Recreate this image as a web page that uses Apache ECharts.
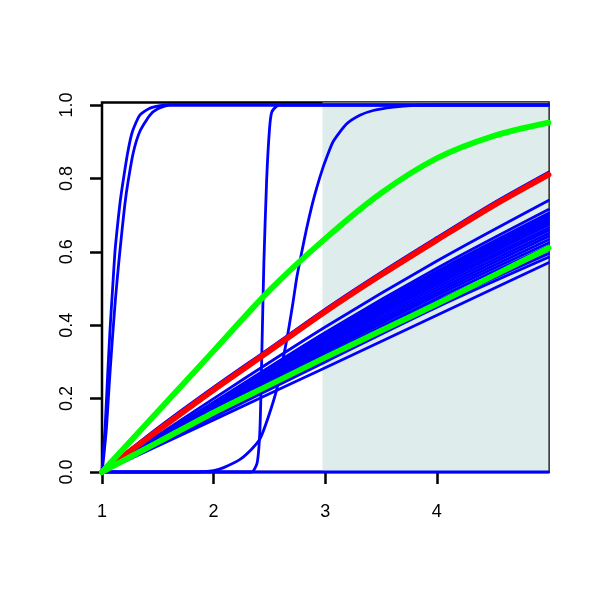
<!DOCTYPE html>
<html>
<head>
<meta charset="utf-8">
<script src="https://cdn.jsdelivr.net/npm/echarts@6/dist/echarts.min.js"></script>
<style>html,body{margin:0;padding:0;background:#fff}#c{width:600px;height:600px}</style>
</head>
<body>
<div id="c"></div>
<script>
// ---- data ----
const xTicks = [1, 2, 3, 4];
const xTickLabels = ['1', '2', '3', '4'];
const yTicks = [0, 0.2, 0.4, 0.6, 0.8, 1.0];
const yTickLabels = ['0.0', '0.2', '0.4', '0.6', '0.8', '1.0'];
const shadeFrom = 2.975;
const shadeTo = 5;

const xFine = [1, 1.5, 2, 2.5, 3, 3.5, 4, 4.5, 5];
const redY = [0, 0.113, 0.224, 0.33, 0.437, 0.537, 0.632, 0.725, 0.81];
const blueUnderRedY = [0, 0.12, 0.231, 0.337, 0.444, 0.544, 0.639, 0.732, 0.817];
const greenUpperY = [0, 0.165, 0.33, 0.495, 0.636, 0.76, 0.855, 0.915, 0.952];
const greenLowerY = [0, 0.081, 0.162, 0.237, 0.312, 0.385, 0.458, 0.534, 0.61];

const xCoarse = [1, 2, 3, 4, 5];
const blueLines = [
  [0, 0.200, 0.395, 0.575, 0.740],
  [0, 0.190, 0.380, 0.555, 0.715],
  [0, 0.188, 0.374, 0.547, 0.705],
  [0, 0.186, 0.370, 0.543, 0.700],
  [0, 0.185, 0.368, 0.540, 0.695],
  [0, 0.183, 0.365, 0.535, 0.690],
  [0, 0.182, 0.362, 0.531, 0.685],
  [0, 0.180, 0.360, 0.528, 0.680],
  [0, 0.178, 0.356, 0.522, 0.673],
  [0, 0.176, 0.352, 0.516, 0.665],
  [0, 0.174, 0.348, 0.510, 0.658],
  [0, 0.171, 0.342, 0.503, 0.650],
  [0, 0.167, 0.335, 0.495, 0.642],
  [0, 0.165, 0.330, 0.488, 0.633],
  [0, 0.162, 0.325, 0.481, 0.624],
  [0, 0.159, 0.318, 0.473, 0.615],
  [0, 0.156, 0.312, 0.465, 0.605],
  [0, 0.153, 0.306, 0.457, 0.595],
  [0, 0.150, 0.300, 0.449, 0.585],
  [0, 0.142, 0.284, 0.427, 0.570]
];

const flatZeroX = [1, 5];
const flatZeroY = [0, 0];

const s1X = [1, 1.01, 1.027, 1.05, 1.072, 1.095, 1.116, 1.134, 1.16, 1.188, 1.23, 1.272, 1.338, 1.42, 1.52, 1.6, 5];
const s1Y = [0, 0.05, 0.117, 0.26, 0.389, 0.5, 0.6, 0.657, 0.73, 0.79, 0.87, 0.927, 0.972, 0.99, 0.998, 1, 1];
const s2X = [1, 1.015, 1.04, 1.065, 1.09, 1.12, 1.15, 1.179, 1.205, 1.233, 1.28, 1.338, 1.428, 1.5, 1.61, 5];
const s2Y = [0, 0.04, 0.12, 0.24, 0.35, 0.47, 0.57, 0.657, 0.73, 0.79, 0.87, 0.927, 0.972, 0.99, 1, 1];
const s3X = [1, 2.34, 2.39, 2.415, 2.43, 2.45, 2.475, 2.5, 2.52, 2.565, 2.6, 5];
const s3Y = [0, 0, 0.025, 0.117, 0.297, 0.569, 0.796, 0.932, 0.98, 0.997, 1, 1];
const s4X = [1, 1.85, 2.0, 2.09, 2.24, 2.34, 2.415, 2.49, 2.565, 2.655, 2.71, 2.745, 2.79, 2.834, 2.88, 2.924, 2.98, 3.01, 3.07, 3.19, 3.31, 3.43, 3.61, 3.8, 4.0, 5];
const s4Y = [0, 0, 0.004, 0.012, 0.035, 0.062, 0.09, 0.15, 0.225, 0.36, 0.46, 0.53, 0.6, 0.665, 0.725, 0.775, 0.83, 0.855, 0.9, 0.948, 0.972, 0.985, 0.994, 0.999, 1, 1];

// ---- helpers ----
const pairs = (xs, ys) => xs.map((x, i) => [x, ys[i]]);
const BLUE = '#0000FF', RED = '#FF0000', GREEN = '#00FF00';
function lineSeries(data, color, width, smooth) {
  return {
    type: 'line', data: data, showSymbol: false, symbol: 'none', clip: false,
    smooth: smooth, silent: true,
    lineStyle: { color: color, width: width, cap: 'round', join: 'round' }
  };
}

const series = [];
series.push({
  type: 'line', data: [], silent: true,
  markArea: {
    silent: true,
    itemStyle: { color: '#DFECEC', borderWidth: 0 },
    data: [[{ xAxis: shadeFrom, yAxis: 0 }, { xAxis: shadeTo, yAxis: 1.0068 }]]
  }
});
series.push(lineSeries(pairs(flatZeroX, flatZeroY), BLUE, 2.8, false));
blueLines.forEach(ys => series.push(lineSeries(pairs(xCoarse, ys), BLUE, 2.8, 0.3)));
series.push(lineSeries(pairs(xFine, blueUnderRedY), BLUE, 2.8, 0.3));
series.push(lineSeries(pairs(s1X, s1Y), BLUE, 2.8, 0.2));
series.push(lineSeries(pairs(s2X, s2Y), BLUE, 2.8, 0.2));
series.push(lineSeries(pairs(s3X, s3Y), BLUE, 2.8, 0.2));
series.push(lineSeries(pairs(s4X, s4Y), BLUE, 2.8, 0.2));
series.push(lineSeries(pairs(xFine, redY), RED, 5.8, 0.3));
series.push(lineSeries(pairs(xFine, greenLowerY), GREEN, 5.8, 0.3));
series.push(lineSeries(pairs(xFine, greenUpperY), GREEN, 5.8, 0.3));

const chart = echarts.init(document.getElementById('c'), null, { renderer: 'canvas' });
chart.setOption({
  animation: false,
  backgroundColor: '#fff',
  grid: {
    left: 102, right: 51.5, top: 102.5, bottom: 128,
    show: true, borderColor: '#000', borderWidth: 2.5, backgroundColor: 'transparent'
  },
  xAxis: {
    type: 'value', min: 1, max: 5,
    axisLine: { show: false },
    splitLine: { show: false },
    axisTick: { show: true, length: 12, customValues: xTicks, lineStyle: { color: '#000', width: 2.5 } },
    axisLabel: {
      margin: 31, customValues: xTicks, color: '#000', fontSize: 18, fontFamily: 'Liberation Sans',
      formatter: v => { const i = xTicks.findIndex(t => Math.abs(t - v) < 1e-9); return i >= 0 ? xTickLabels[i] : ''; }
    }
  },
  yAxis: {
    type: 'value', min: 0, max: 1.0068,
    axisLine: { show: false },
    splitLine: { show: false },
    axisTick: { show: true, length: 12, customValues: yTicks, lineStyle: { color: '#000', width: 2.5 } },
    axisLabel: {
      margin: 26, rotate: 90, customValues: yTicks, color: '#000', fontSize: 18, fontFamily: 'Liberation Sans',
      formatter: v => { const i = yTicks.findIndex(t => Math.abs(t - v) < 1e-9); return i >= 0 ? yTickLabels[i] : ''; }
    }
  },
  series: series
});
</script>
</body>
</html>
